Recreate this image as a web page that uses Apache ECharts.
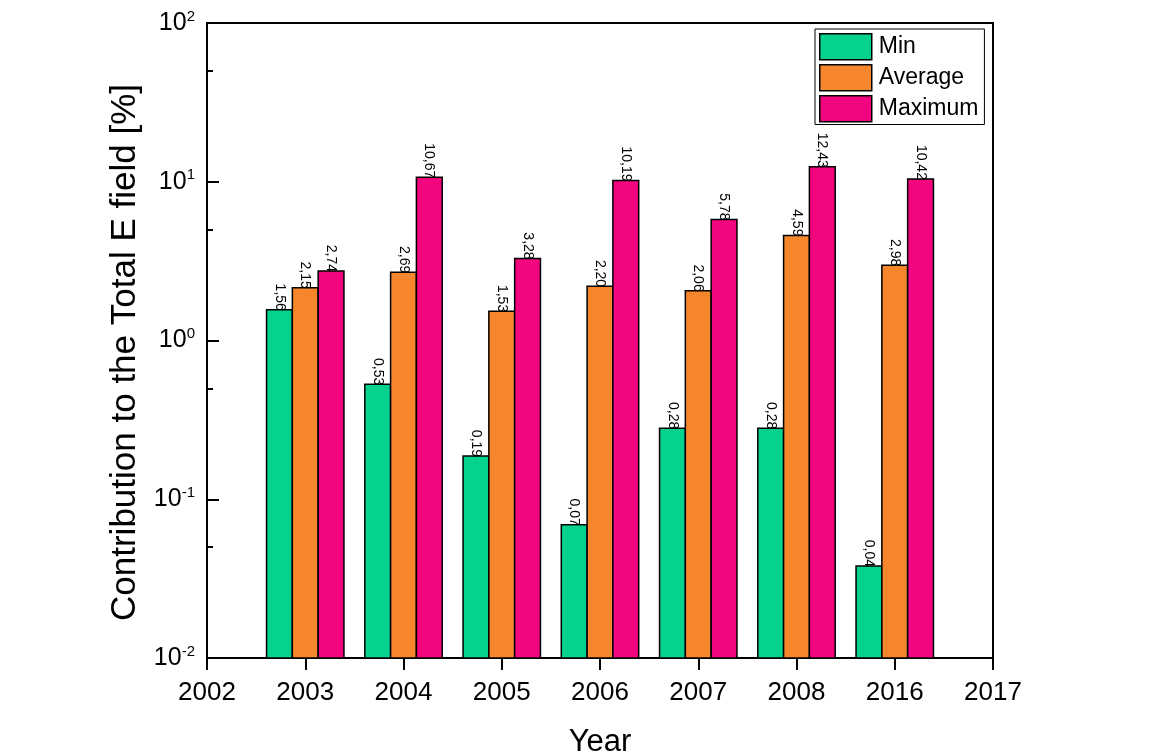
<!DOCTYPE html>
<html>
<head>
<meta charset="utf-8">
<script src="https://cdn.jsdelivr.net/npm/echarts@6/dist/echarts.min.js"></script>
<style>html,body{margin:0;padding:0;background:#fff}#c{width:1153px;height:752px}</style>
</head>
<body>
<div id="c"></div>
<script>
const categories = ['2002','2003','2004','2005','2006','2007','2008','2016','2017'];
const minValues = [null, 1.56, 0.53, 0.187, 0.069, 0.28, 0.28, 0.038, null];
const avgValues = [null, 2.15, 2.69, 1.53, 2.20, 2.06, 4.59, 2.98, null];
const maxValues = [null, 2.74, 10.67, 3.28, 10.19, 5.78, 12.43, 10.42, null];
const seriesNames = ['Min', 'Average', 'Maximum'];
const minorTickValues = [0.05, 0.5, 5, 50];

const colors = ['#05D28F', '#F5862B', '#F2057F'];
const FONT = 'Liberation Sans, Arial, sans-serif';
const AXIS_MIN = 0.01;
const BAR_FRACTION = 0.2626; // bar width as a fraction of category spacing

function fmtNum(v) {
  return Number(v).toFixed(2).replace('.', ',');
}

const chart = echarts.init(document.getElementById('c'), null, {renderer: 'canvas'});

function mkSeries(name, values, color, slot) {
  const data = [];
  values.forEach(function (v, i) { if (v != null) data.push([i, v]); });
  return {
    name: name,
    type: 'custom',
    coordinateSystem: 'cartesian2d',
    encode: {x: 0, y: 1},
    itemStyle: {color: color, borderColor: '#000', borderWidth: 1.5},
    data: data,
    renderItem: function (params, api) {
      const idx = api.value(0);
      const val = api.value(1);
      const band = api.size([1, 0])[0];
      const barW = band * BAR_FRACTION;
      const top = api.coord([idx, val]);
      const base = api.coord([idx, AXIS_MIN]);
      const cx = top[0] + slot * barW;
      return {
        type: 'group',
        children: [{
          type: 'rect',
          shape: {x: cx - barW / 2, y: top[1], width: barW, height: base[1] - top[1]},
          style: {fill: color, stroke: '#000', lineWidth: 1.5}
        }, {
          type: 'text',
          x: cx,
          y: top[1] + 1,
          rotation: -Math.PI / 2,
          style: {
            text: fmtNum(val),
            fontFamily: FONT,
            fontSize: 14,
            fill: '#000',
            align: 'right',
            verticalAlign: 'middle'
          }
        }]
      };
    }
  };
}

chart.setOption({
  animation: false,
  textStyle: {fontFamily: FONT},
  grid: {left: 207, right: 160, top: 23, bottom: 94, outerBoundsMode: 'none', containLabel: false, show: true, borderColor: '#000', borderWidth: 2, backgroundColor: 'transparent'},
  legend: {
    orient: 'vertical',
    left: 815, top: 29,
    itemWidth: 52, itemHeight: 26, itemGap: 3.5,
    padding: [4, 6, 2, 4],
    borderColor: '#000', borderWidth: 1,
    icon: 'rect',
    itemStyle: {borderColor: '#000', borderWidth: 1.5},
    textStyle: {fontFamily: FONT, fontSize: 23, color: '#000', lineHeight: 26, padding: [0, 0, 0, 2]},
    data: seriesNames
  },
  xAxis: {
    type: 'category',
    data: categories,
    boundaryGap: false,
    name: 'Year',
    nameLocation: 'middle',
    nameGap: 69,
    nameTextStyle: {fontFamily: FONT, fontSize: 31, color: '#000'},
    axisLine: {lineStyle: {color: '#000', width: 2}},
    axisTick: {show: true, inside: false, length: 12, interval: 0, lineStyle: {color: '#000', width: 2}},
    axisLabel: {fontFamily: FONT, fontSize: 26, color: '#000', margin: 22, interval: 0},
    splitLine: {show: false}
  },
  yAxis: [{
    type: 'log',
    logBase: 10,
    min: AXIS_MIN,
    max: 100,
    name: 'Contribution to the Total E field [%]',
    nameLocation: 'middle',
    nameGap: 60,
    nameTextStyle: {fontFamily: FONT, fontSize: 35, color: '#000', padding: [0, 24, 0, 0]},
    axisLine: {show: true, lineStyle: {color: '#000', width: 2}},
    axisTick: {show: true, inside: true, length: 12, lineStyle: {color: '#000', width: 2}},
    splitLine: {show: false},
    axisLabel: {
      margin: 12,
      formatter: function (v) {
        const e = Math.round(Math.log10(v));
        return '{b|10}{s|' + e + '}';
      },
      rich: {
        b: {fontFamily: FONT, fontSize: 25, color: '#000', lineHeight: 28},
        s: {fontFamily: FONT, fontSize: 15, color: '#000', verticalAlign: 'top', lineHeight: 16}
      }
    }
  }, {
    type: 'log',
    logBase: 10,
    min: AXIS_MIN,
    max: 100,
    position: 'left',
    axisLine: {show: false},
    axisLabel: {show: false},
    splitLine: {show: false},
    axisTick: {show: true, inside: true, length: 6, customValues: minorTickValues, lineStyle: {color: '#000', width: 2}}
  }],
  series: [
    mkSeries(seriesNames[0], minValues, colors[0], -1),
    mkSeries(seriesNames[1], avgValues, colors[1], 0),
    mkSeries(seriesNames[2], maxValues, colors[2], 1)
  ]
});
</script>
</body>
</html>
